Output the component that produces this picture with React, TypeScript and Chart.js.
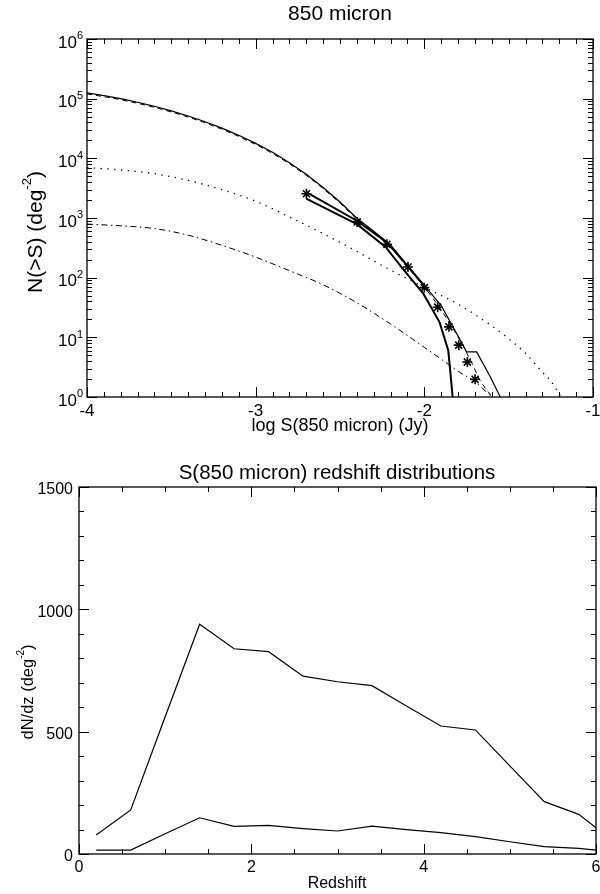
import React, { useEffect, useRef } from 'react';
import { Chart, registerables } from 'chart.js';

Chart.register(...registerables);

const FONT = '"Liberation Sans", Arial, Helvetica, sans-serif';

type Pt = [number, number];

// ---------- Top chart: cumulative counts N(>S) vs log S ----------
const totalModel: Pt[] = [
  [-4.0, 125000], [-3.9, 112700], [-3.8, 100000], [-3.7, 87100], [-3.6, 74500],
  [-3.5, 62400], [-3.4, 51200], [-3.3, 41000], [-3.2, 32100], [-3.1, 24300],
  [-3.0, 17800], [-2.9, 12600], [-2.8, 8450], [-2.7, 5400], [-2.6, 3250],
  [-2.5, 1850], [-2.4, 990], [-2.3, 600], [-2.2, 355], [-2.1, 160],
  [-2.0, 74], [-1.9, 34], [-1.8, 10.5], [-1.75, 5.7], [-1.69, 5.7],
  [-1.61, 2.2], [-1.55, 1.0],
];

const dashedModel: Pt[] = [
  [-4.0, 120000], [-3.9, 108200], [-3.8, 96000], [-3.7, 83600], [-3.6, 71500],
  [-3.5, 59900], [-3.4, 49200], [-3.3, 39400], [-3.2, 30800], [-3.1, 23300],
  [-3.0, 17100], [-2.9, 12100], [-2.8, 8100], [-2.7, 5180], [-2.6, 3120],
  [-2.5, 1780], [-2.4, 950], [-2.3, 570], [-2.2, 335], [-2.1, 150],
  [-2.0, 70], [-1.92, 35], [-1.835, 15], [-1.77, 7.2], [-1.72, 3.8],
  [-1.675, 2.0], [-1.635, 1.35], [-1.61, 1.12], [-1.605, 1.0],
];

const upperBound: Pt[] = [
  [-2.70, 2720], [-2.40, 900], [-2.22, 385], [-2.10, 158], [-2.0, 72],
];

const lowerBound: Pt[] = [
  [-2.70, 2110], [-2.40, 790], [-2.23, 327], [-2.12, 133], [-2.006, 54],
  [-1.91, 18], [-1.858, 6], [-1.832, 1.0],
];

const dottedComp: Pt[] = [
  [-4.0, 7000], [-3.8, 6380], [-3.6, 5530], [-3.4, 4260], [-3.2, 2990],
  [-3.0, 1910], [-2.8, 1040], [-2.6, 548], [-2.4, 275], [-2.2, 134],
  [-2.0, 69], [-1.8, 36], [-1.6, 15.5], [-1.5, 9.5], [-1.4, 5.4],
  [-1.3, 2.6], [-1.25, 1.85], [-1.19, 1.0],
];

const dashDotComp: Pt[] = [
  [-4.0, 790], [-3.8, 740], [-3.6, 665], [-3.4, 515], [-3.2, 348],
  [-3.0, 221], [-2.8, 131], [-2.6, 76], [-2.4, 38], [-2.2, 16.7],
  [-2.0, 6.8], [-1.9, 4.3], [-1.8, 2.7], [-1.7, 1.8], [-1.6, 1.0],
];

const dataLogS = [-2.699, -2.398, -2.222, -2.097, -2.0, -1.921, -1.854, -1.796, -1.745, -1.699];
const dataN = [2550, 860, 362, 151, 68, 32, 15, 7.4, 3.85, 1.98];

const topXTicks = [-4, -3, -2, -1];
const topYDecades = [0, 1, 2, 3, 4, 5, 6];

// ---------- Bottom chart: redshift distributions ----------
const zBins = [0.2, 0.6, 1.0, 1.4, 1.8, 2.2, 2.6, 3.0, 3.4, 3.8, 4.2, 4.6, 5.0, 5.4, 5.8, 6.2];
const dndzAll = [78, 180, 561, 939, 839, 827, 727, 704, 688, 605, 523, 507, 360, 214, 162, 52];
const dndzBright = [16, 16, 83, 148, 113, 117, 104, 94, 114, 100, 87, 71, 50, 30, 23, 9];

const botXTicks = [0, 2, 4, 6];
const botYTicks = [0, 500, 1000, 1500];

type Part = { text: string; sup?: boolean };

function drawRich(
  ctx: CanvasRenderingContext2D,
  parts: Part[],
  x: number,
  y: number,
  size: number,
  align: 'left' | 'center' | 'right',
  angle = 0
) {
  ctx.save();
  ctx.translate(x, y);
  if (angle) ctx.rotate(angle);
  const supSize = Math.round(size * 0.62);
  const widths = parts.map((p) => {
    ctx.font = `${p.sup ? supSize : size}px ${FONT}`;
    return ctx.measureText(p.text).width;
  });
  const total = widths.reduce((s, w) => s + w, 0);
  let cx = align === 'center' ? -total / 2 : align === 'right' ? -total : 0;
  ctx.textBaseline = 'middle';
  ctx.textAlign = 'left';
  ctx.fillStyle = '#000';
  parts.forEach((p, i) => {
    ctx.font = `${p.sup ? supSize : size}px ${FONT}`;
    ctx.fillText(p.text, cx, p.sup ? -size * 0.4 : 0);
    cx += widths[i];
  });
  ctx.restore();
}

function drawFrameTicks(
  chart: any,
  xMaj: number[],
  xMin: number[],
  yMaj: number[],
  yMin: number[],
  majLen: number,
  minLen: number
) {
  const ctx: CanvasRenderingContext2D = chart.ctx;
  const a = chart.chartArea;
  const xs = chart.scales.x;
  const ys = chart.scales.y;
  ctx.save();
  ctx.strokeStyle = '#000';
  ctx.lineWidth = 1;
  ctx.beginPath();
  const seg = (x1: number, y1: number, x2: number, y2: number) => {
    ctx.moveTo(x1, y1);
    ctx.lineTo(x2, y2);
  };
  const xt = (v: number, len: number) => {
    const p = Math.round(xs.getPixelForValue(v)) + 0.5;
    seg(p, a.bottom, p, a.bottom - len);
    seg(p, a.top, p, a.top + len);
  };
  const yt = (v: number, len: number) => {
    const p = Math.round(ys.getPixelForValue(v)) + 0.5;
    seg(a.left, p, a.left + len, p);
    seg(a.right, p, a.right - len, p);
  };
  xMaj.forEach((v) => xt(v, majLen));
  xMin.forEach((v) => xt(v, minLen));
  yMaj.forEach((v) => yt(v, majLen));
  yMin.forEach((v) => yt(v, minLen));
  ctx.stroke();
  ctx.lineWidth = 1.3;
  ctx.strokeRect(a.left, a.top, a.right - a.left, a.bottom - a.top);
  ctx.restore();
}

const toXY = (pts: Pt[]) => pts.map(([x, y]) => ({ x, y }));

const lineDs = (pts: Pt[], width: number, dash: number[] = [], smooth = false) => ({
  data: toXY(pts),
  showLine: true,
  borderColor: '#000',
  backgroundColor: '#000',
  borderWidth: width,
  borderDash: dash,
  pointRadius: 0,
  tension: 0,
  cubicInterpolationMode: smooth ? 'monotone' : 'default',
  fill: false,
});

const topDecor = {
  id: 'topDecor',
  afterDraw(chart: any) {
    const ctx: CanvasRenderingContext2D = chart.ctx;
    const xs = chart.scales.x;
    const ys = chart.scales.y;
    const xMin: number[] = [];
    for (let i = -40; i <= -10; i++) if (i % 10 !== 0) xMin.push(i / 10);
    const yMaj = topYDecades.map((d) => Math.pow(10, d));
    const yMin: number[] = [];
    for (let d = 0; d < 6; d++) for (let m = 2; m <= 9; m++) yMin.push(m * Math.pow(10, d));
    drawFrameTicks(chart, topXTicks, xMin, yMaj, yMin, 10, 5);

    topXTicks.forEach((v) =>
      drawRich(ctx, [{ text: String(v) }], xs.getPixelForValue(v), 411, 17, 'center')
    );
    topYDecades.forEach((d) => {
      const py = ys.getPixelForValue(Math.pow(10, d));
      drawRich(ctx, [{ text: '10' }, { text: String(d), sup: true }], 83, py + 4, 17, 'right');
    });
    drawRich(ctx, [{ text: '850 micron' }], 340, 14, 21, 'center');
    drawRich(ctx, [{ text: 'log S(850 micron) (Jy)' }], 340, 426, 18, 'center');
    drawRich(
      ctx,
      [{ text: 'N(>S) (deg' }, { text: '-2', sup: true }, { text: ')' }],
      36,
      232,
      21,
      'center',
      -Math.PI / 2
    );
  },
};

const bottomDecor = {
  id: 'bottomDecor',
  afterDraw(chart: any) {
    const ctx: CanvasRenderingContext2D = chart.ctx;
    const xs = chart.scales.x;
    const ys = chart.scales.y;
    const xMin: number[] = [];
    for (let i = 0; i <= 12; i++) if (i % 4 !== 0) xMin.push(i / 2);
    const yMin: number[] = [];
    for (let v = 100; v < 1500; v += 100) if (v % 500 !== 0) yMin.push(v);
    drawFrameTicks(chart, botXTicks, xMin, botYTicks, yMin, 10, 5);

    botXTicks.forEach((v) =>
      drawRich(ctx, [{ text: String(v) }], xs.getPixelForValue(v), 428, 16, 'center')
    );
    botYTicks.forEach((v) =>
      drawRich(ctx, [{ text: String(v) }], 73, ys.getPixelForValue(v) + 3, 16, 'right')
    );
    drawRich(ctx, [{ text: 'S(850 micron) redshift distributions' }], 337, 33, 20.5, 'center');
    drawRich(ctx, [{ text: 'Redshift' }], 337, 444, 16, 'center');
    drawRich(
      ctx,
      [{ text: 'dN/dz (deg' }, { text: '-2', sup: true }, { text: ')' }],
      28,
      252,
      16.5,
      'center',
      -Math.PI / 2
    );
  },
};

function TopChart() {
  const ref = useRef<HTMLCanvasElement>(null);
  useEffect(() => {
    if (!ref.current) return;
    const chart = new Chart(ref.current, {
      type: 'scatter',
      data: {
        datasets: [
          lineDs(dottedComp, 1.3, [1.3, 5.5], true) as any,
          lineDs(dashDotComp, 1, [6, 3.5, 1.5, 3.5], true) as any,
          lineDs(dashedModel, 1, [5, 4]) as any,
          lineDs(totalModel, 1.2) as any,
          lineDs(upperBound, 2) as any,
          lineDs(lowerBound, 2) as any,
          {
            data: dataLogS.map((x, i) => ({ x, y: dataN[i] })),
            showLine: false,
            pointStyle: 'star',
            pointRadius: 5,
            borderColor: '#000',
            backgroundColor: '#000',
            borderWidth: 1.6,
          } as any,
        ],
      },
      options: {
        animation: false,
        responsive: false,
        devicePixelRatio: 1,
        events: [],
        layout: { padding: { left: 87, right: 7, top: 39, bottom: 43 } },
        plugins: {
          legend: { display: false },
          tooltip: { enabled: false },
          title: { display: false },
        },
        scales: {
          x: { type: 'linear', min: -4, max: -1, display: false },
          y: { type: 'logarithmic', min: 1, max: 1e6, display: false },
        },
      },
      plugins: [topDecor],
    });
    return () => chart.destroy();
  }, []);
  return (
    <canvas
      ref={ref}
      width={600}
      height={440}
      style={{ position: 'absolute', left: 0, top: 0, width: 600, height: 440 }}
    />
  );
}

function BottomChart() {
  const ref = useRef<HTMLCanvasElement>(null);
  useEffect(() => {
    if (!ref.current) return;
    const chart = new Chart(ref.current, {
      type: 'scatter',
      data: {
        datasets: [
          {
            data: zBins.map((x, i) => ({ x, y: dndzAll[i] })),
            showLine: true,
            borderColor: '#000',
            borderWidth: 1.2,
            pointRadius: 0,
            tension: 0,
          } as any,
          {
            data: zBins.map((x, i) => ({ x, y: dndzBright[i] })),
            showLine: true,
            borderColor: '#000',
            borderWidth: 1.2,
            pointRadius: 0,
            tension: 0,
          } as any,
        ],
      },
      options: {
        animation: false,
        responsive: false,
        devicePixelRatio: 1,
        events: [],
        layout: { padding: { left: 79, right: 4, top: 47, bottom: 40 } },
        plugins: {
          legend: { display: false },
          tooltip: { enabled: false },
          title: { display: false },
        },
        scales: {
          x: { type: 'linear', min: 0, max: 6, display: false },
          y: { type: 'linear', min: 0, max: 1500, display: false },
        },
      },
      plugins: [bottomDecor],
    });
    return () => chart.destroy();
  }, []);
  return (
    <canvas
      ref={ref}
      width={600}
      height={454}
      style={{ position: 'absolute', left: 0, top: 440, width: 600, height: 454 }}
    />
  );
}

export default function App() {
  return (
    <div style={{ position: 'absolute', left: 0, top: 0, width: 600, height: 894, background: '#fff' }}>
      <TopChart />
      <BottomChart />
    </div>
  );
}
